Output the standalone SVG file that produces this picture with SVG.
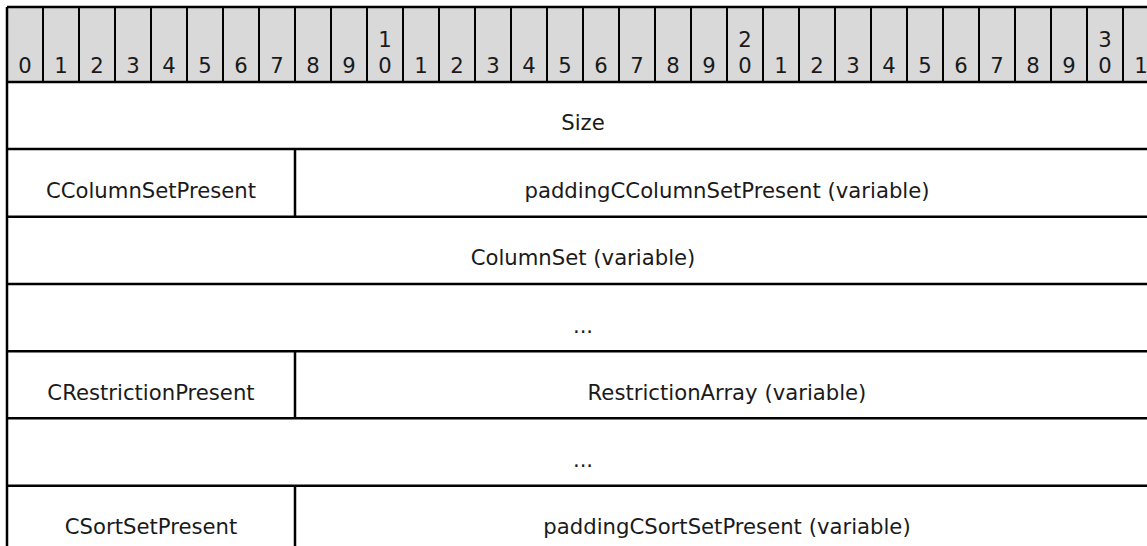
<svg xmlns="http://www.w3.org/2000/svg" width="1147" height="546" viewBox="0 0 1147 546">
<style>
.hdr{fill:#d9d9d9;stroke:none}
.ln{stroke:#000;stroke-width:2.5;fill:none}
.thin{stroke:#000;stroke-width:2;fill:none}
text{font-family:"DejaVu Sans",Verdana,sans-serif;font-size:21.2px;fill:#1a1a1a;text-anchor:middle}
</style>
<rect width="1147" height="546" fill="#fff"/>
<g id="header">
<rect class="hdr" x="7" y="7" width="1152" height="75"/>
<g class="thin">
<path d="M43 7V82M79 7V82M115 7V82M151 7V82M187 7V82M223 7V82M259 7V82M295 7V82M331 7V82M367 7V82M403 7V82M439 7V82M475 7V82M511 7V82M547 7V82M583 7V82M619 7V82M655 7V82M691 7V82M727 7V82M763 7V82M799 7V82M835 7V82M871 7V82M907 7V82M943 7V82M979 7V82M1015 7V82M1051 7V82M1087 7V82M1123 7V82"/>
</g>
<text x="25" y="73">0</text>
<text x="61" y="73">1</text>
<text x="97" y="73">2</text>
<text x="133" y="73">3</text>
<text x="169" y="73">4</text>
<text x="205" y="73">5</text>
<text x="241" y="73">6</text>
<text x="277" y="73">7</text>
<text x="313" y="73">8</text>
<text x="349" y="73">9</text>
<text x="385" y="47">1</text>
<text x="385" y="73">0</text>
<text x="421" y="73">1</text>
<text x="457" y="73">2</text>
<text x="493" y="73">3</text>
<text x="529" y="73">4</text>
<text x="565" y="73">5</text>
<text x="601" y="73">6</text>
<text x="637" y="73">7</text>
<text x="673" y="73">8</text>
<text x="709" y="73">9</text>
<text x="745" y="47">2</text>
<text x="745" y="73">0</text>
<text x="781" y="73">1</text>
<text x="817" y="73">2</text>
<text x="853" y="73">3</text>
<text x="889" y="73">4</text>
<text x="925" y="73">5</text>
<text x="961" y="73">6</text>
<text x="997" y="73">7</text>
<text x="1033" y="73">8</text>
<text x="1069" y="73">9</text>
<text x="1105" y="47">3</text>
<text x="1105" y="73">0</text>
<text x="1141" y="73">1</text>
</g>
<g id="grid">
<path class="ln" d="M7 7H1147M7 7V546M7 82H1147M7 149H1147M7 216.7H1147M7 284H1147M7 351.3H1147M7 418.3H1147M7 485.7H1147"/>
<path class="ln" d="M295 149V216.7M295 351.3V418.3M295 485.7V546"/>
</g>
<g id="f-size"><text x="583" y="130">Size</text></g>
<g id="f-ccolumnsetpresent"><text x="151" y="197.5">CColumnSetPresent</text></g>
<g id="f-paddingccolumnsetpresent"><text x="727" y="197.5">paddingCColumnSetPresent (variable)</text></g>
<g id="f-columnset"><text x="583" y="265">ColumnSet (variable)</text></g>
<g id="f-ellipsis1"><text x="583" y="332.5">...</text></g>
<g id="f-crestrictionpresent"><text x="151" y="400">CRestrictionPresent</text></g>
<g id="f-restrictionarray"><text x="727" y="400">RestrictionArray (variable)</text></g>
<g id="f-ellipsis2"><text x="583" y="467">...</text></g>
<g id="f-csortsetpresent"><text x="151" y="534">CSortSetPresent</text></g>
<g id="f-paddingcsortsetpresent"><text x="727" y="534">paddingCSortSetPresent (variable)</text></g>
</svg>
